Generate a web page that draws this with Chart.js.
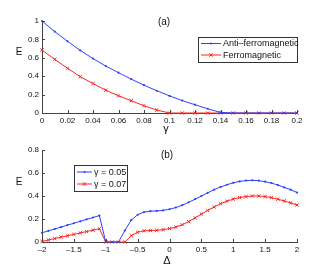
<!DOCTYPE html>
<html lang="en">
<head>
<meta charset="UTF-8">
<title>E vs gamma and Delta</title>
<script src="https://cdn.jsdelivr.net/npm/chart.js"></script>
<style>
    * { margin: 0; padding: 0; box-sizing: border-box; }
    body { background: #fff; width: 327px; height: 273px; overflow: hidden; position: relative; }
    .panel { position: absolute; left: 0; width: 327px; }
    #panelA { top: 0; height: 137px; }
    #panelB { top: 137px; height: 136px; }
</style>
</head>
<body>
<div class="panel" id="panelA"><canvas id="chartA"></canvas></div>
<div class="panel" id="panelB"><canvas id="chartB"></canvas></div>

<script>
// ---- panel (a): E vs gamma ----
const gammaVals = [0, 0.01, 0.02, 0.03, 0.04, 0.05, 0.06, 0.07, 0.08, 0.09, 0.1,
                   0.11, 0.12, 0.13, 0.14, 0.15, 0.16, 0.17, 0.18, 0.19, 0.2];
const antiFerroE = [1.0, 0.885, 0.78, 0.68, 0.592, 0.51, 0.438, 0.368, 0.302, 0.242, 0.186,
                    0.135, 0.09, 0.046, 0.006, 0, 0, 0, 0, 0, 0];
const ferroE = [0.684, 0.583, 0.486, 0.395, 0.32, 0.248, 0.187, 0.133, 0.079, 0.032, 0,
                0, 0, 0, 0, 0, 0, 0, 0, 0, 0];
const xTicksA = [0, 0.02, 0.04, 0.06, 0.08, 0.1, 0.12, 0.14, 0.16, 0.18, 0.2];
const yTicksA = [0, 0.2, 0.4, 0.6, 0.8, 1];

// ---- panel (b): E vs Delta ----
const deltaVals = [-2, -1.9, -1.8, -1.7, -1.6, -1.5, -1.4, -1.3, -1.2, -1.1, -1,
                   -0.9, -0.8, -0.7, -0.6, -0.5, -0.4, -0.3, -0.2, -0.1, 0,
                   0.1, 0.2, 0.3, 0.4, 0.5, 0.6, 0.7, 0.8, 0.9, 1,
                   1.1, 1.2, 1.3, 1.4, 1.5, 1.6, 1.7, 1.8, 1.9, 2];
const gamma005 = [0.08, 0.097, 0.113, 0.13, 0.147, 0.163, 0.18, 0.197, 0.213, 0.23, 0,
                  0, 0, 0.1, 0.19, 0.237, 0.26, 0.268, 0.27, 0.275, 0.285,
                  0.3, 0.32, 0.345, 0.372, 0.4, 0.428, 0.455, 0.478, 0.498, 0.515,
                  0.527, 0.534, 0.536, 0.533, 0.525, 0.512, 0.495, 0.475, 0.455, 0.43];
const gamma007 = [0.005, 0.017, 0.03, 0.042, 0.054, 0.066, 0.079, 0.091, 0.103, 0.115, 0,
                  0, 0, 0, 0.055, 0.085, 0.097, 0.1, 0.102, 0.107, 0.117,
                  0.13, 0.15, 0.177, 0.21, 0.243, 0.275, 0.305, 0.333, 0.355, 0.373,
                  0.386, 0.395, 0.4, 0.4, 0.395, 0.385, 0.372, 0.357, 0.34, 0.322];
const xTicksB = [-2, -1.5, -1, -0.5, 0, 0.5, 1, 1.5, 2];
const yTicksB = [0, 0.2, 0.4, 0.6, 0.8];

const BLUE = 'rgb(45,65,255)';
const RED = 'rgb(255,35,35)';
const AXIS = '#444';
const FONT = "'Liberation Sans', Arial, sans-serif";

function pts(xs, ys) {
    return xs.map((x, i) => ({x: x, y: ys[i]}));
}

function fmt(v) {
    return String(v).replace('-', '\u2013');
}

function blueSet(label, xs, ys) {
    return {
        label: label, data: pts(xs, ys),
        borderColor: BLUE, backgroundColor: BLUE, borderWidth: 1,
        pointStyle: 'circle', pointRadius: 1.1, pointBorderWidth: 0,
        clip: 6, tension: 0
    };
}

function redSet(label, xs, ys) {
    return {
        label: label, data: pts(xs, ys),
        borderColor: RED, backgroundColor: RED, borderWidth: 1,
        pointStyle: 'crossRot', pointRadius: 2.3, pointBorderWidth: 1,
        clip: 6, tension: 0
    };
}

// inward tick marks, panel title, axis labels and boxed legend
const decor = {
    id: 'decor',
    afterDatasetsDraw(chart, args, opts) {
        const ctx = chart.ctx;
        const xs = chart.scales.x, ys = chart.scales.y;
        const area = chart.chartArea;
        ctx.save();
        ctx.strokeStyle = AXIS;
        ctx.lineWidth = 1;
        ctx.beginPath();
        xs.ticks.forEach(t => {
            const px = Math.round(xs.getPixelForValue(t.value)) + 0.5;
            ctx.moveTo(px, area.bottom);
            ctx.lineTo(px, area.bottom - 3);
        });
        ys.ticks.forEach(t => {
            const py = Math.round(ys.getPixelForValue(t.value)) + 0.5;
            ctx.moveTo(area.left, py);
            ctx.lineTo(area.left + 3, py);
        });
        ctx.stroke();

        ctx.fillStyle = '#111';
        ctx.textAlign = 'center';
        ctx.textBaseline = 'middle';
        ctx.font = '10px ' + FONT;
        ctx.fillText(opts.title, opts.titleX, opts.titleY);
        ctx.fillText('E', opts.eX, opts.eY);
        ctx.font = '11px ' + FONT;
        ctx.fillText(opts.xTitle, opts.xTitleX, opts.xTitleY);

        // legend
        const L = opts.legend;
        ctx.fillStyle = '#fff';
        ctx.fillRect(L.x, L.y, L.w, L.h);
        ctx.strokeStyle = '#333';
        ctx.strokeRect(L.x + 0.5, L.y + 0.5, L.w, L.h);
        ctx.font = '9px ' + FONT;
        ctx.textAlign = 'left';
        chart.data.datasets.forEach((ds, i) => {
            const ry = L.y + L.rows[i];
            ctx.strokeStyle = ds.borderColor;
            ctx.beginPath();
            ctx.moveTo(L.x + 3, ry);
            ctx.lineTo(L.x + 3 + L.line, ry);
            ctx.stroke();
            const mx = L.x + 3 + L.line / 2;
            if (ds.pointStyle === 'crossRot') {
                ctx.beginPath();
                ctx.moveTo(mx - 1.7, ry - 1.7); ctx.lineTo(mx + 1.7, ry + 1.7);
                ctx.moveTo(mx - 1.7, ry + 1.7); ctx.lineTo(mx + 1.7, ry - 1.7);
                ctx.stroke();
            } else {
                ctx.fillStyle = ds.borderColor;
                ctx.beginPath();
                ctx.arc(mx, ry, 1.1, 0, Math.PI * 2);
                ctx.fill();
            }
            ctx.fillStyle = '#111';
            ctx.fillText(ds.label, L.x + 5 + L.line, ry + 0.5);
        });
        ctx.restore();
    }
};

function makeOptions(cfg) {
    return {
        responsive: false,
        animation: false,
        layout: {padding: {left: 0, right: 30, top: cfg.top, bottom: 0}},
        plugins: {
            legend: {display: false},
            tooltip: {enabled: false},
            decor: cfg.decor
        },
        scales: {
            x: {
                type: 'linear', min: cfg.xMin, max: cfg.xMax,
                grid: {display: false, drawTicks: false},
                border: {display: true, color: AXIS, width: 1},
                afterBuildTicks: s => { s.ticks = cfg.xTicks.map(v => ({value: v})); },
                afterFit: s => { s.height = cfg.xHeight; },
                ticks: {
                    padding: 3, maxRotation: 0, autoSkip: false, color: '#111',
                    font: {family: FONT, size: 8},
                    callback: v => fmt(v)
                }
            },
            y: {
                type: 'linear', min: cfg.yMin, max: cfg.yMax,
                grid: {display: false, drawTicks: false},
                border: {display: true, color: AXIS, width: 1},
                afterBuildTicks: s => { s.ticks = cfg.yTicks.map(v => ({value: v})); },
                afterFit: s => { s.width = 42; },
                ticks: {
                    padding: 3, autoSkip: false, color: '#111',
                    font: {family: FONT, size: 8},
                    callback: v => fmt(v)
                }
            }
        }
    };
}

function setup(id, w, h) {
    const c = document.getElementById(id);
    c.width = w; c.height = h;
    c.style.width = w + 'px'; c.style.height = h + 'px';
    return c;
}

new Chart(setup('chartA', 327, 137), {
    type: 'line',
    data: {
        datasets: [
            blueSet('Anti\u2013ferromagnetic', gammaVals, antiFerroE),
            redSet('Ferromagnetic', gammaVals, ferroE)
        ]
    },
    options: makeOptions({
        top: 21, xHeight: 24, xMin: 0, xMax: 0.2, yMin: 0, yMax: 1,
        xTicks: xTicksA, yTicks: yTicksA,
        decor: {
            title: '(a)', titleX: 164, titleY: 22,
            eX: 19, eY: 52, xTitle: '\u03b3', xTitleX: 166, xTitleY: 129,
            legend: {x: 198, y: 37, w: 99, h: 25, line: 20, rows: [6.5, 18]}
        }
    }),
    plugins: [decor]
});

new Chart(setup('chartB', 327, 136), {
    type: 'line',
    data: {
        datasets: [
            blueSet('\u03b3 = 0.05', deltaVals, gamma005),
            redSet('\u03b3 = 0.07', deltaVals, gamma007)
        ]
    },
    options: makeOptions({
        top: 13, xHeight: 31, xMin: -2, xMax: 2, yMin: 0, yMax: 0.8,
        xTicks: xTicksB, yTicks: yTicksB,
        decor: {
            title: '(b)', titleX: 167, titleY: 18,
            eX: 19, eY: 45, xTitle: '\u0394', xTitleX: 167, xTitleY: 124,
            legend: {x: 74, y: 28, w: 53, h: 26, line: 15, rows: [7, 19]}
        }
    }),
    plugins: [decor]
});
</script>
</body>
</html>
